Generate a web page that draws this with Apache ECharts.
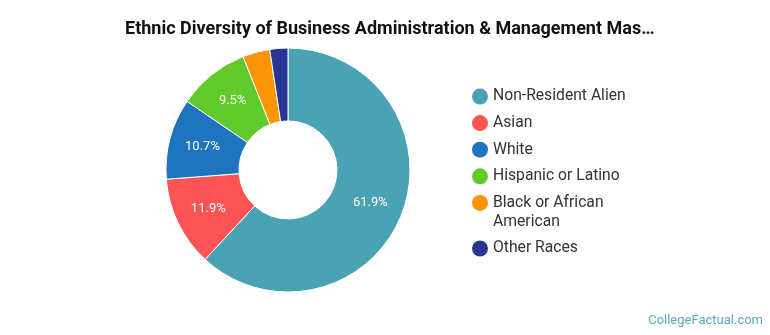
<!DOCTYPE html>
<html>
<head>
<meta charset="utf-8">
<script src="https://cdn.jsdelivr.net/npm/echarts@6/dist/echarts.min.js"></script>
<style>html,body{margin:0;padding:0;background:#fff}#c{width:770px;height:335px}</style>
</head>
<body>
<div id="c"></div>
<script>
const categories = ['Non-Resident Alien', 'Asian', 'White', 'Hispanic or Latino', 'Black or African American', 'Other Races'];
const values = [61.9, 11.9, 10.7, 9.5, 3.6, 2.4];
const colors = ['#4aa3b5', '#fc5455', '#1f74c0', '#5fca2a', '#fb9507', '#283593'];
const titleText = 'Ethnic Diversity of Business Administration & Management Mas\u2026';

const chart = echarts.init(document.getElementById('c'));
const legendBase = {
  orient: 'vertical',
  left: 467,
  icon: 'circle',
  itemWidth: 16,
  itemHeight: 16,
  itemGap: 5.6,
  itemStyle: { borderWidth: 0 },
  textStyle: { fontFamily: 'Roboto', fontSize: 15.7, color: '#333', lineHeight: 21 }
};
chart.setOption({
  animation: false,
  title: {
    text: titleText,
    left: 120,
    top: 15,
    textStyle: { fontFamily: 'Roboto', fontWeight: 'bold', fontSize: 18, color: '#111' }
  },
  graphic: [{
    type: 'text',
    right: 7,
    top: 314,
    style: { text: 'CollegeFactual.com', font: '13px Roboto', fill: '#5ea8c0' }
  }, {
    type: 'text',
    left: 493,
    top: 214,
    style: { text: 'American', font: '15.7px Roboto', fill: '#333' }
  }],
  legend: [
    Object.assign({}, legendBase, {
      top: 81,
      data: categories.slice(0, 5),
      formatter: function (n) { return n === 'Black or African American' ? 'Black or African' : n; }
    }),
    Object.assign({}, legendBase, {
      top: 233,
      data: categories.slice(5)
    })
  ],
  series: [{
    type: 'pie',
    center: [288, 170],
    radius: [49, 122],
    startAngle: 90,
    clockwise: true,
    avoidLabelOverlap: false,
    itemStyle: { borderColor: '#fff', borderWidth: 1 },
    label: {
      position: 'inside',
      color: '#fff',
      fontFamily: 'Roboto',
      fontSize: 13,
      formatter: function (p) { return p.value >= 5 ? p.value.toFixed(1) + '%' : ''; }
    },
    labelLine: { show: false },
    emphasis: { disabled: true },
    data: categories.map(function (n, i) {
      return { name: n, value: values[i], itemStyle: { color: colors[i] } };
    })
  }]
});
</script>
</body>
</html>
